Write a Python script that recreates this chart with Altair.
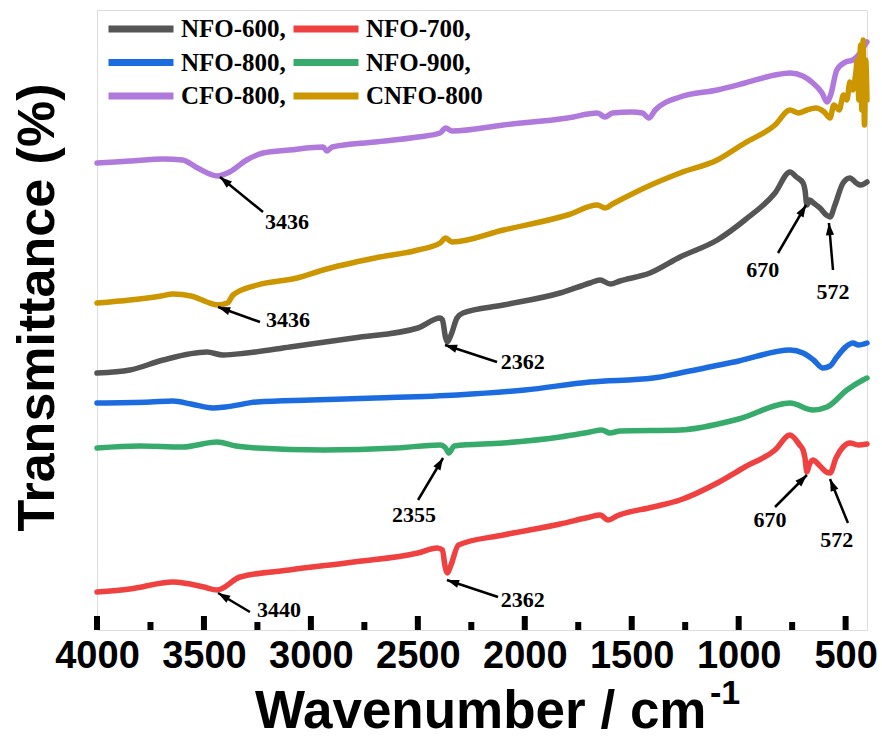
import math
import altair as alt
import pandas as pd

SERIES = ["NFO-600", "NFO-700", "NFO-800", "NFO-900", "CFO-800", "CNFO-800"]
COLORS = ["#555555", "#f04141", "#1c6ce0", "#36ab6b", "#b07add", "#cc9600"]
# legend grid is filled column by column: order so rows read as in the reference
LEGEND_ORDER = ["NFO-600", "NFO-800", "CFO-800", "NFO-700", "NFO-900", "CNFO-800"]

nfo600_w = [4000, 3846, 3691, 3486, 3411, 3300, 3098, 2800, 2500, 2396, 2385, 2370, 2362, 2345, 2317, 2289, 2100, 1835, 1695, 1648, 1600, 1555, 1415, 1274, 1100, 971, 830, 760, 730, 699, 690, 681, 667, 650, 620, 590, 573, 550, 512, 480, 450, 430, 400]
nfo600_t = [257, 260, 270, 278, 275, 277, 283, 292, 302, 312, 310, 292, 288, 295, 312, 317, 325, 337, 347, 350, 346, 349, 357, 373, 390, 410, 437, 458, 453, 447, 440, 425, 430, 427, 422, 415, 413, 425, 447, 452, 447, 445, 448]

nfo700_w = [4000, 3846, 3645, 3500, 3439, 3331, 3100, 2800, 2500, 2410, 2385, 2373, 2362, 2345, 2310, 2100, 1835, 1695, 1648, 1610, 1570, 1400, 1274, 1100, 971, 830, 760, 715, 699, 690, 681, 670, 653, 620, 590, 573, 545, 512, 480, 440, 400]
nfo700_t = [38, 41, 48, 43, 40, 53, 60, 68, 77, 82, 80, 64, 57, 65, 85, 95, 106, 113, 115, 110, 114, 123, 130, 147, 163, 180, 195, 185, 180, 172, 158, 165, 170, 164, 158, 157, 172, 183, 187, 185, 186]

nfo800_w = [4000, 3750, 3645, 3560, 3458, 3400, 3252, 3000, 2700, 2317, 2000, 1695, 1400, 1274, 1000, 760, 699, 650, 606, 573, 541, 500, 466, 440, 400]
nfo800_t = [227, 228, 229, 226, 222, 223, 228, 230, 232, 235, 240, 248, 252, 257, 269, 280, 277, 270, 262, 264, 273, 283, 287, 285, 287]

nfo900_w = [4000, 3800, 3600, 3439, 3350, 3252, 2943, 2600, 2396, 2370, 2355, 2330, 2100, 1835, 1695, 1640, 1602, 1555, 1274, 1000, 760, 653, 587, 494, 419, 400]
nfo900_t = [182, 184, 183, 188, 184, 182, 180, 182, 185, 182, 177, 184, 187, 193, 198, 200, 197, 199, 200, 211, 227, 220, 223, 240, 250, 252]

cfo800_w = [4000, 3846, 3691, 3600, 3530, 3436, 3380, 3300, 3224, 3100, 2943, 2925, 2900, 2700, 2500, 2396, 2370, 2340, 2100, 1800, 1660, 1625, 1590, 1500, 1450, 1420, 1390, 1274, 1100, 971, 830, 760, 700, 653, 610, 587, 570, 541, 500, 466, 433, 410, 400]
cfo800_t = [467, 469, 471, 470, 462, 454, 458, 470, 477, 480, 483, 479, 483, 488, 493, 497, 502, 499, 505, 512, 517, 513, 517, 518, 517, 512, 520, 533, 540, 547, 555, 557, 554, 547, 537, 528, 535, 560, 568, 570, 577, 585, 588]

cnfo800_w = [4000, 3846, 3700, 3645, 3560, 3486, 3436, 3390, 3364, 3250, 3065, 2943, 2700, 2500, 2396, 2370, 2340, 2100, 1800, 1660, 1625, 1590, 1400, 1274, 1100, 971, 830, 760, 720, 680, 640, 600, 573, 555, 530, 510, 494, 480, 466, 452, 445, 438, 430, 424, 418, 412, 406, 400]
cnfo800_t = [327, 330, 334, 336, 334, 328, 325, 327, 335, 345, 352, 360, 372, 380, 387, 392, 388, 400, 415, 425, 422, 426, 446, 457, 470, 487, 505, 520, 517, 520, 522, 518, 512, 525, 520, 535, 530, 548, 540, 558, 570, 530, 585, 520, 590, 505, 570, 530]

major_ticks = [4000, 3500, 3000, 2500, 2000, 1500, 1000, 500]
minor_ticks = [3750, 3250, 2750, 2250, 1750, 1250, 750]

# peak annotations: label, arrow head (on curve), arrow tail, label position
ann_label = ["3436", "3436", "2362", "2355", "2362", "3440", "670", "572", "670", "572"]
ann_head_w = [3425, 3434, 2373, 2382, 2364, 3434, 685, 578, 681, 573]
ann_head_t = [453, 323, 285, 172, 50, 37, 425, 407, 155, 151]
ann_tail_w = [3224, 3238, 2130, 2499, 2125, 3285, 816, 559, 830, 489]
ann_tail_t = [418, 308, 268, 130, 33, 18, 377, 360, 123, 107]
ann_text_w = [3112, 3107, 2009, 2518, 2009, 3149, 887, 559, 854, 541]
ann_text_t = [408, 310, 268, 115, 30, 20, 360, 338, 110, 90]

W, H = 770, 620
X_DOM = [4000, 400]
Y_DOM = [0, 620]

frames = []
for name, ws, ts in [("NFO-600", nfo600_w, nfo600_t), ("NFO-700", nfo700_w, nfo700_t),
                     ("NFO-800", nfo800_w, nfo800_t), ("NFO-900", nfo900_w, nfo900_t),
                     ("CFO-800", cfo800_w, cfo800_t), ("CNFO-800", cnfo800_w, cnfo800_t)]:
    frames.append(pd.DataFrame({"sample": name, "wavenumber": ws, "t": ts}))
df = pd.concat(frames, ignore_index=True)

px_per_w = W / (X_DOM[0] - X_DOM[1])
px_per_t = H / (Y_DOM[1] - Y_DOM[0])
angles = []
for hw, ht, tw, tt in zip(ann_head_w, ann_head_t, ann_tail_w, ann_tail_t):
    dx = -(hw - tw) * px_per_w
    dy = -(ht - tt) * px_per_t
    angles.append(math.degrees(math.atan2(dx, -dy)) % 360)
ann = pd.DataFrame({"label": ann_label, "hw": ann_head_w, "ht": ann_head_t,
                    "tw": ann_tail_w, "tt": ann_tail_t, "xw": ann_text_w, "xt": ann_text_t,
                    "ang": angles})

x_scale = alt.Scale(domain=X_DOM, nice=False, zero=False)
y_scale = alt.Scale(domain=Y_DOM, nice=False, zero=False)

x_axis = alt.Axis(values=major_ticks, format="d", labelFont="Liberation Sans", labelFontSize=38,
                  labelFontWeight="bold", labelColor="black", labelPadding=7,
                  labelFlush=False, labelOverlap=False,
                  ticks=False, domain=False, grid=False,
                  title="Wavenumber / cm", titleFont="Liberation Sans", titleFontWeight="bold",
                  titleFontSize=53, titleColor="black", titleX=609, titleY=97,
                  titleAlign="right", titleBaseline="alphabetic")
y_axis = alt.Axis(labels=False, ticks=False, domain=False, grid=False,
                  title="Transmittance (%)", titleFont="Liberation Sans", titleFontWeight="bold",
                  titleFontSize=52, titleColor="black", titleX=-44, titleY=297,
                  titleAlign="center", titleBaseline="alphabetic")

lines = alt.Chart(df).mark_line(strokeWidth=5.5, strokeJoin="round", strokeCap="round",
                                interpolate="monotone").encode(
    x=alt.X("wavenumber:Q", scale=x_scale, axis=x_axis),
    y=alt.Y("t:Q", scale=y_scale, axis=y_axis),
    color=alt.Color("sample:N", sort=LEGEND_ORDER,
                    scale=alt.Scale(domain=LEGEND_ORDER,
                                    range=[COLORS[SERIES.index(s)] for s in LEGEND_ORDER]),
                    legend=alt.Legend(orient="none", legendX=8, legendY=6, columns=2,
                                      title=None, symbolType="stroke", symbolSize=4225,
                                      symbolStrokeWidth=7, clipHeight=26, rowPadding=7.5,
                                      columnPadding=4, labelOffset=4,
                                      labelFont="Liberation Serif", labelFontWeight="bold",
                                      labelFontSize=25, labelColor="black", padding=0,
                                      labelExpr="datum.label == 'CNFO-800' ? datum.label : datum.label + ','")),
    detail="sample:N",
)

major = alt.Chart(pd.DataFrame({"w": major_ticks})).mark_rule(color="black", strokeWidth=6).encode(
    x=alt.X("w:Q", scale=x_scale, axis=x_axis), y=alt.value(H - 14), y2=alt.value(H))
minor = alt.Chart(pd.DataFrame({"w": minor_ticks})).mark_rule(color="black", strokeWidth=6).encode(
    x=alt.X("w:Q", scale=x_scale, axis=x_axis), y=alt.value(H - 8), y2=alt.value(H))

shafts = alt.Chart(ann).mark_rule(color="black", strokeWidth=2.5).encode(
    x=alt.X("hw:Q", scale=x_scale, axis=x_axis), y=alt.Y("ht:Q", scale=y_scale, axis=y_axis),
    x2="tw:Q", y2="tt:Q")
heads = alt.Chart(ann).mark_point(shape="M0,0L-0.75,2.2L0.75,2.2Z", filled=True, color="black",
                                  opacity=1, size=121).encode(
    x=alt.X("hw:Q", scale=x_scale, axis=x_axis), y=alt.Y("ht:Q", scale=y_scale, axis=y_axis),
    angle=alt.Angle("ang:Q", scale=None))
texts = alt.Chart(ann).mark_text(font="Liberation Serif", fontWeight="bold", fontSize=22,
                                 color="black", baseline="middle", align="center").encode(
    x=alt.X("xw:Q", scale=x_scale, axis=x_axis), y=alt.Y("xt:Q", scale=y_scale, axis=y_axis),
    text="label:N")
sup = alt.Chart(pd.DataFrame({"s": ["-1"]})).mark_text(
    font="Liberation Sans", fontWeight="bold", fontSize=34, color="black",
    align="left", baseline="alphabetic").encode(
    x=alt.value(613), y=alt.value(694), text="s:N")

chart = alt.layer(lines, major, minor, shafts, heads, texts, sup).properties(
    width=W, height=H,
    autosize=alt.AutoSizeParams(type="none"),
    padding={"left": 97, "top": 10, "right": 15, "bottom": 108},
).configure_view(stroke="black", strokeWidth=7).configure(background="white")

chart.save("out.html", embed_options={"renderer": "svg", "actions": False})
